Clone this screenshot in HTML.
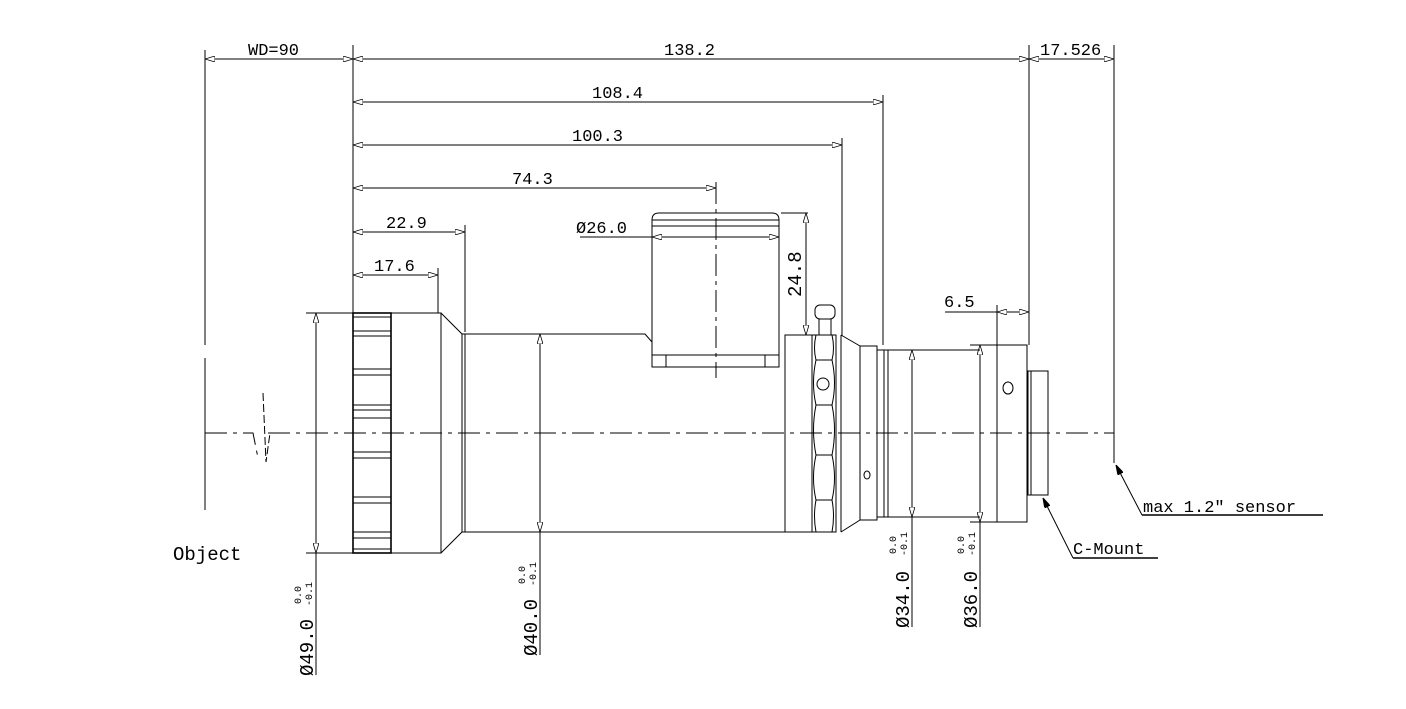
<!DOCTYPE html>
<html><head><meta charset="utf-8"><style>html,body{margin:0;padding:0;background:#fff}svg{display:block}</style></head><body>
<svg width="1406" height="709" viewBox="0 0 1406 709" xmlns="http://www.w3.org/2000/svg" font-family="'Liberation Mono','Noto Serif CJK SC',monospace" fill="none" stroke="#000" stroke-width="1">
<defs>
<marker id="a" viewBox="0 0 10 6" refX="10" refY="3" markerWidth="10" markerHeight="6" orient="auto-start-reverse" markerUnits="userSpaceOnUse"><path d="M0,0L10,3L0,6Z" fill="#fff" stroke="#000" stroke-width="0.8"/></marker>
<marker id="f" viewBox="0 0 10 6" refX="10" refY="3" markerWidth="10" markerHeight="6" orient="auto" markerUnits="userSpaceOnUse"><path d="M0,0L10,3L0,6Z" fill="#000"/></marker>
</defs>
<!-- extension lines -->
<path d="M205,50V345M205,358V510M353,45V315M1029,45V345M1114,45V463M883,95V345M842,138V336M465,225V332M438,268V313M997,305V345M808,213H781"/>
<path d="M716,182V378" stroke-dasharray="22,5,4,5"/>
<!-- dimension lines -->
<g marker-start="url(#a)" marker-end="url(#a)">
<path d="M205,59H353"/><path d="M353,59H1029"/><path d="M1029,59H1114"/>
<path d="M353,102H883"/><path d="M353,145H842"/><path d="M353,188H716"/>
<path d="M353,232H465"/><path d="M353,275H438"/>
<path d="M652,237H779"/><path d="M806,213V335"/><path d="M997,312H1029"/>
<path d="M316,313V553"/><path d="M540,334V532"/><path d="M912,350V517"/><path d="M980,345V522"/>
</g>
<path d="M580,237H652M945,312H997"/>
<path d="M316,553V675M306,313H353M306,553H353"/>
<path d="M540,532V655"/>
<path d="M912,517V627"/>
<path d="M980,522V627M970,345H997M970,522H997"/>
<!-- axis -->
<path d="M205,433H253L258,458M268,433H1114" stroke-dasharray="22,6,4,6"/>
<path d="M263,393L266,462L270,433" stroke-dasharray="8,3"/>
<!-- front knurled ring -->
<rect x="353" y="313" width="38" height="240" stroke-width="1.6"/>
<path d="M353,317H391M353,549H391M353,331H391M353,336H391M353,369H391M353,375H391M353,405H391M353,410H391M353,418H391M353,452H391M353,458H391M353,497H391M353,503H391M353,532H391M353,538H391"/>
<rect x="391" y="313" width="50" height="240"/>
<path d="M441,313L462,334V532L441,553M465,334V532"/>
<path d="M462,334H645L652,342M462,532H785M652,367H779"/>
<!-- top box -->
<path d="M652,367V220Q652,213 659,213H772Q779,213 779,220V367Z"/>
<path d="M652,220H779M652,226H779M652,355H779M666,355V367M765,355V367"/>
<!-- rear section -->
<rect x="785" y="335" width="27" height="197"/>
<rect x="812" y="335" width="24" height="197"/>
<path d="M816,335Q813,348 816,360Q811,383 816,405Q811,430 816,455Q811,478 816,500Q813,516 816,532M832,335Q835,348 832,360Q837,383 832,405Q837,430 832,455Q837,478 832,500Q835,516 832,532M816,360H832M816,405H832M816,455H832M816,500H832"/>
<circle cx="823" cy="384" r="6"/>
<rect x="815" y="305" width="20" height="14" rx="5"/><rect x="819" y="319" width="12" height="16"/>
<path d="M836,335V532M841,335V532M841,335L860,346V520L841,532M860,346H877V520H860M877,346V520M884,350V517M888,350V517M877,350H888M877,517H888"/>
<ellipse cx="867" cy="475" rx="3" ry="4"/>
<path d="M888,350H980M888,517H980"/>
<rect x="997" y="345" width="30" height="177"/><path d="M1027,345V522"/>
<ellipse cx="1008" cy="388" rx="5" ry="6"/>
<rect x="1028" y="371" width="20" height="124"/><path d="M1031,371V495"/>
<!-- leaders -->
<path d="M1142,515L1116,465" marker-end="url(#f)"/><path d="M1142,515H1323" stroke-width="1.5"/>
<path d="M1073,558L1043,498" marker-end="url(#f)"/><path d="M1073,558H1158" stroke-width="1.5"/>
<!-- text -->
<g fill="#000" stroke="none" font-size="17">
<text x="248" y="55">WD=90</text>
<text x="664" y="55">138.2</text>
<text x="1040" y="55">17.526</text>
<text x="592" y="98">108.4</text>
<text x="572" y="141">100.3</text>
<text x="512" y="184">74.3</text>
<text x="386" y="228">22.9</text>
<text x="374" y="271">17.6</text>
<text x="576" y="233">Ø26.0</text>
<text x="944" y="307">6.5</text>
<text x="1143" y="512">max 1.2″ sensor</text>
<text x="1073" y="554">C-Mount</text>
<text x="173" y="560" font-size="19">Object</text>
<g font-size="19">
<text transform="translate(801,297) rotate(-90)">24.8</text>
<text transform="translate(313,676) rotate(-90)">Ø49.0</text>
<text transform="translate(537,656) rotate(-90)">Ø40.0</text>
<text transform="translate(909,628) rotate(-90)">Ø34.0</text>
<text transform="translate(977,628) rotate(-90)">Ø36.0</text>
</g>
<g font-size="10">
<text transform="translate(301,604) rotate(-90)">0.0</text><text transform="translate(312,606) rotate(-90)">-0.1</text>
<text transform="translate(525,584) rotate(-90)">0.0</text><text transform="translate(536,586) rotate(-90)">-0.1</text>
<text transform="translate(896,554) rotate(-90)">0.0</text><text transform="translate(907,556) rotate(-90)">-0.1</text>
<text transform="translate(964,554) rotate(-90)">0.0</text><text transform="translate(975,556) rotate(-90)">-0.1</text>
</g>
</g>
</svg>
</body></html>
